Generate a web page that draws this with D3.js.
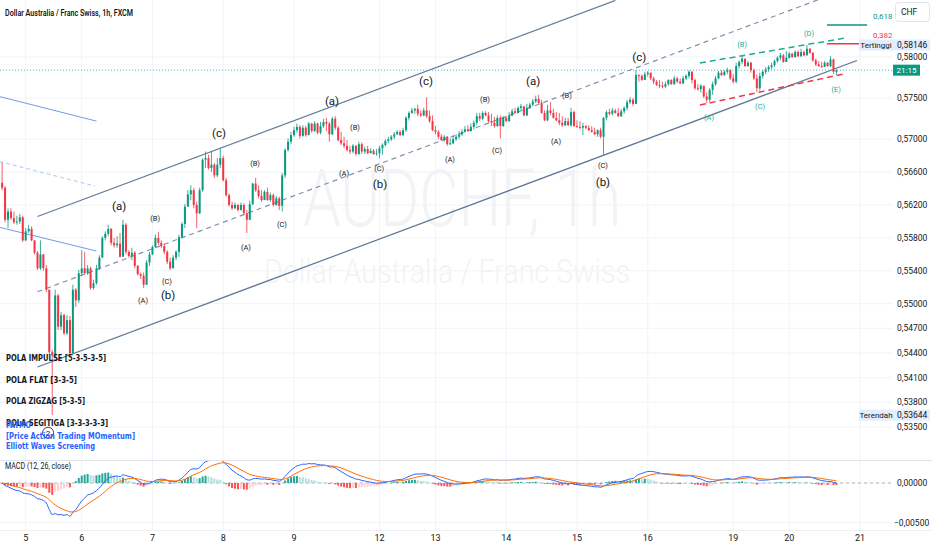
<!DOCTYPE html>
<html>
<head>
<meta charset="utf-8">
<script src="https://cdn.jsdelivr.net/npm/d3@7"></script>
<style>
  body { margin: 0; background: #fff; }
  svg { display: block; }
</style>
</head>
<body>
<script>
// AUDCHF 1h, FXCM - bar index 0 is the first visible candle
var firstOpen = .5647;
var closes = [
  .5641,.5602,.5612,.5604,.5599,.5600,.5605,.5577,.5588,.5591,
  .5577,.5562,.5543,.5560,.5543,.5517,.5441,.5437,.5510,.5472,
  .5486,.5464,.5480,.5440,.5517,.5504,.5537,.5543,.5537,.5543,
  .5519,.5525,.5543,.5556,.5580,.5585,.5591,.5574,.5571,.5573,
  .5557,.5596,.5563,.5558,.5562,.5546,.5536,.5534,.5523,.5550,
  .5560,.5569,.5580,.5574,.5570,.5563,.5551,.5543,.5556,.5563,
  .5581,.5597,.5618,.5633,.5638,.5620,.5610,.5638,.5675,.5677,
  .5665,.5669,.5656,.5669,.5677,.5650,.5632,.5620,.5616,.5620,
  .5614,.5620,.5610,.5602,.5621,.5646,.5638,.5631,.5626,.5636,
  .5626,.5632,.5620,.5628,.5619,.5656,.5687,.5697,.5705,.5711,
  .5715,.5704,.5714,.5705,.5719,.5710,.5719,.5708,.5716,.5721,
  .5719,.5706,.5725,.5714,.5699,.5695,.5692,.5687,.5685,.5692,
  .5682,.5694,.5685,.5688,.5683,.5686,.5682,.5683,.5689,.5693,
  .5698,.5700,.5703,.5706,.5709,.5705,.5711,.5726,.5732,.5735,
  .5737,.5731,.5729,.5735,.5728,.5722,.5711,.5709,.5703,.5699,
  .5703,.5694,.5695,.5700,.5703,.5706,.5709,.5712,.5710,.5715,
  .5720,.5728,.5725,.5732,.5729,.5722,.5720,.5716,.5726,.5716,
  .5726,.5722,.5729,.5734,.5732,.5738,.5740,.5729,.5738,.5742,
  .5746,.5749,.5744,.5732,.5723,.5735,.5732,.5726,.5723,.5720,
  .5717,.5722,.5717,.5733,.5716,.5715,.5714,.5716,.5714,.5711,
  .5709,.5706,.5711,.5703,.5726,.5733,.5731,.5735,.5732,.5728,
  .5734,.5738,.5745,.5748,.5743,.5778,.5777,.5772,.5779,.5781,
  .5774,.5770,.5766,.5765,.5764,.5767,.5772,.5767,.5774,.5770,
  .5768,.5774,.5777,.5782,.5772,.5762,.5761,.5765,.5752,.5748,
  .5760,.5767,.5774,.5781,.5778,.5782,.5784,.5774,.5770,.5789,
  .5794,.5798,.5789,.5793,.5784,.5774,.5762,.5777,.5782,.5785,
  .5788,.5790,.5795,.5799,.5802,.5794,.5799,.5804,.5800,.5806,
  .5801,.5806,.5802,.5810,.5805,.5796,.5791,.5789,.5788,.5793,
  .5789,.5797,.5782,.5784
];
var highs = [
  .5672,.5643,.5616,.5616,.5612,.5607,.5609,.5607,.5592,.5596,
  .5594,.5577,.5564,.5577,.5560,.5547,.5517,.5444,.5517,.5512,
  .5490,.5488,.5486,.5485,.5523,.5519,.5541,.5565,.5563,.5547,
  .5545,.5529,.5547,.5559,.5582,.5588,.5596,.5592,.5580,.5582,
  .5586,.5602,.5598,.5565,.5568,.5564,.5547,.5538,.5538,.5553,
  .5563,.5571,.5584,.5587,.5577,.5573,.5565,.5556,.5559,.5565,
  .5584,.5599,.5621,.5638,.5644,.5641,.5624,.5641,.5677,.5685,
  .5681,.5685,.5671,.5677,.5689,.5680,.5653,.5634,.5624,.5623,
  .5621,.5623,.5622,.5614,.5625,.5647,.5653,.5644,.5638,.5638,
  .5641,.5635,.5634,.5631,.5630,.5659,.5689,.5701,.5709,.5715,
  .5719,.5717,.5717,.5716,.5721,.5720,.5722,.5720,.5721,.5725,
  .5726,.5721,.5727,.5728,.5716,.5709,.5703,.5699,.5692,.5694,
  .5693,.5697,.5696,.5691,.5692,.5689,.5688,.5688,.5692,.5695,
  .5700,.5703,.5705,.5709,.5711,.5711,.5714,.5728,.5734,.5738,
  .5738,.5742,.5735,.5738,.5751,.5735,.5729,.5716,.5711,.5706,
  .5705,.5704,.5701,.5705,.5706,.5710,.5712,.5716,.5717,.5719,
  .5723,.5732,.5732,.5734,.5734,.5733,.5731,.5727,.5729,.5729,
  .5728,.5728,.5733,.5737,.5738,.5740,.5743,.5740,.5743,.5744,
  .5749,.5753,.5754,.5748,.5735,.5742,.5745,.5737,.5733,.5732,
  .5728,.5726,.5726,.5738,.5735,.5723,.5722,.5720,.5717,.5717,
  .5716,.5714,.5712,.5714,.5727,.5735,.5737,.5738,.5737,.5738,
  .5737,.5740,.5748,.5751,.5750,.5784,.5779,.5779,.5782,.5783,
  .5781,.5776,.5772,.5772,.5770,.5770,.5773,.5773,.5777,.5776,
  .5774,.5777,.5779,.5784,.5783,.5774,.5767,.5767,.5765,.5757,
  .5762,.5770,.5777,.5783,.5784,.5784,.5787,.5785,.5779,.5793,
  .5796,.5802,.5796,.5795,.5794,.5786,.5779,.5781,.5784,.5788,
  .5790,.5793,.5797,.5801,.5805,.5804,.5807,.5806,.5805,.5808,
  .5808,.5810,.5808,.58146,.5811,.5806,.5798,.5795,.5794,.5795,
  .5794,.5801,.5798,.5785
];
var lows = [
  .5638,.5599,.5592,.5602,.5597,.5596,.5597,.5575,.5576,.5586,
  .5576,.5560,.5541,.5541,.5540,.5514,.5438,.53644,.5435,.5468,
  .5468,.5462,.5462,.5437,.5437,.5496,.5501,.5534,.5535,.5535,
  .5517,.5517,.5523,.5541,.5556,.5577,.5582,.5571,.5568,.5568,
  .5556,.5557,.5560,.5556,.5553,.5543,.5534,.5530,.5519,.5523,
  .5546,.5559,.5568,.5571,.5568,.5560,.5548,.5541,.5543,.5553,
  .5557,.5580,.5592,.5618,.5626,.5616,.5592,.5609,.5636,.5665,
  .5663,.5660,.5653,.5654,.5665,.5649,.5630,.5618,.5614,.5615,
  .5612,.5613,.5608,.5586,.5602,.5620,.5636,.5628,.5624,.5626,
  .5625,.5624,.5618,.5619,.5614,.5612,.5653,.5685,.5694,.5703,
  .5708,.5701,.5703,.5703,.5705,.5708,.5709,.5706,.5706,.5714,
  .5710,.5697,.5705,.5711,.5697,.5693,.5689,.5685,.5682,.5683,
  .5680,.5681,.5682,.5682,.5682,.5683,.5681,.5680,.5677,.5681,
  .5691,.5695,.5698,.5700,.5705,.5704,.5704,.5709,.5723,.5731,
  .5731,.5728,.5727,.5728,.5726,.5720,.5710,.5706,.5700,.5698,
  .5697,.5692,.5693,.5694,.5698,.5700,.5704,.5708,.5709,.5709,
  .5712,.5717,.5722,.5723,.5728,.5720,.5716,.5714,.5715,.5701,
  .5715,.5721,.5721,.5728,.5731,.5731,.5735,.5728,.5728,.5737,
  .5740,.5744,.5743,.5731,.5722,.5722,.5729,.5725,.5722,.5717,
  .5715,.5716,.5716,.5715,.5715,.5714,.5712,.5705,.5712,.5710,
  .5708,.5705,.5703,.5701,.5681,.5723,.5729,.5729,.5731,.5727,
  .5727,.5731,.5735,.5743,.5740,.5743,.5770,.5771,.5772,.5776,
  .5772,.5767,.5765,.5762,.5762,.5762,.5765,.5766,.5766,.5768,
  .5767,.5767,.5772,.5774,.5768,.5760,.5759,.5757,.5750,.5744,
  .5745,.5754,.5765,.5773,.5777,.5777,.5779,.5772,.5768,.5768,
  .5786,.5791,.5788,.5788,.5781,.5772,.5757,.5759,.5774,.5779,
  .5782,.5785,.5788,.5793,.5796,.5793,.5794,.5798,.5799,.5799,
  .5800,.5800,.5801,.5802,.5804,.5794,.5789,.5788,.5787,.5788,
  .5788,.5788,.5779,.5778
];

// time axis: day label -> bar index
var dayLabels = ["5", "6", "7", "8", "9", "12", "13", "14", "15", "16", "19", "20", "21"];
var dayIndex  = [8, 27, 51, 75, 99, 128, 147, 171, 195, 219, 248, 267, 291];

var priceTicks = [.58, .575, .57, .566, .562, .558, .554, .55, .547, .544, .541, .538, .535];
var macdTicks = [0, -0.005];
var highValue = .58146, lowValue = .53644;

// drawings, anchored as [barIndex, price]
var channelUpper = [[12, .5606], [208, .58688]];
var channelMid   = [[12, .55145], [290, .58873]];
var channelLower = [[12, .5423], [290, .57958]];
var oldLines = [
  { pts: [[-1, .5752], [32, .5722]], dash: null },
  { pts: [[-1, .5673], [31.5, .5643]], dash: "4,3" },
  { pts: [[-1, .5593], [32, .5564]], dash: null }
];
var triUpper = [[236.7, .57927], [286, .58231]];
var triLower = [[236.7, .57416], [285.3, .57793]];
var fibLines = [
  { label: "0,618", p: .58389, from: 279.8, to: 293.4, color: "#089981" },
  { label: "0,382", p: .5816,  from: 279.8, to: 291,   color: "#f23645" }
];

// Elliott wave labels
var bigLabels = [
  ["(a)", 39.7, .5619], ["(b)", 56.3, .5511], ["(c)", 73.6, .5708],
  ["(a)", 111.9, .5747], ["(b)", 128.2, .5646], ["(c)", 143.8, .5771],
  ["(a)", 180.1, .5771], ["(b)", 203.8, .5648], ["(c)", 216.1, .5800]
];
var smallLabels = [
  ["(B)", 51.9, .5604], ["(A)", 47.8, .5504], ["(C)", 55.9, .5527],
  ["(B)", 85.8, .5671], ["(A)", 82.7, .5568], ["(C)", 94.9, .5596],
  ["(B)", 119.7, .5714], ["(A)", 116, .5659], ["(C)", 127.9, .5665],
  ["(B)", 163.8, .5749], ["(A)", 151.9, .5676], ["(C)", 167.9, .5686],
  ["(B)", 191.6, .5753], ["(A)", 187.9, .5697], ["(C)", 203.8, .5668]
];
var tealLabels = [
  ["(A)", 239.8, .5727], ["(B)", 251, .5815], ["(C)", 257.1, .5740],
  ["(D)", 273.7, .5829], ["(E)", 282.9, .5761]
];
var circleLabel = ["2", 15.6, .5343];

var W = 932, H = 550, plotR = 892;
var fmt = function(v) { return d3.format(".5f")(v).replace(".", ","); };

var svg = d3.select("body").append("svg")
  .attr("width", W).attr("height", H)
  .style("font-family", "Roboto, 'Noto Sans', sans-serif");

var x = d3.scaleLinear().domain([8, 291]).range([25.7, 860]);
var y = d3.scaleLinear().domain([0.535, 0.58]).range([427, 57]);
var yM = d3.scaleLinear().domain([-0.005, 0]).range([522.7, 483]);

var defs = svg.append("defs");
defs.append("clipPath").attr("id", "mainClip").append("rect")
  .attr("x", 0).attr("y", 0).attr("width", plotR).attr("height", 460);
defs.append("clipPath").attr("id", "macdClip").append("rect")
  .attr("x", 0).attr("y", 461).attr("width", plotR).attr("height", 69);

// grid
var grid = svg.append("g").attr("stroke", "#f1f3f7");
grid.selectAll(".vg").data(dayIndex).join("line")
  .attr("x1", d => x(d)).attr("x2", d => x(d)).attr("y1", 0).attr("y2", 530);
grid.selectAll(".hg").data(priceTicks).join("line")
  .attr("x1", 0).attr("x2", plotR).attr("y1", d => y(d)).attr("y2", d => y(d));
grid.selectAll(".mg").data(macdTicks).join("line")
  .attr("x1", 0).attr("x2", plotR).attr("y1", d => yM(d)).attr("y2", d => yM(d));

// watermark
svg.append("text").attr("x", 462).attr("y", 226).attr("text-anchor", "middle")
  .attr("font-size", 80).attr("font-weight", 300).attr("fill", "#f1f3f6").attr("textLength", 318)
  .attr("lengthAdjust", "spacingAndGlyphs").text("AUDCHF, 1h");
svg.append("text").attr("x", 447).attr("y", 283).attr("text-anchor", "middle")
  .attr("font-size", 34).attr("font-weight", 300).attr("fill", "#f1f3f6").attr("textLength", 366)
  .attr("lengthAdjust", "spacingAndGlyphs").text("Dollar Australia / Franc Swiss");

var main = svg.append("g").attr("clip-path", "url(#mainClip)");
var line = d3.line().x(d => x(d[0])).y(d => y(d[1]));

// older channel (top left)
main.selectAll(".old").data(oldLines).join("path")
  .attr("d", d => line(d.pts)).attr("fill", "none")
  .attr("stroke", d => d.dash ? "#a9c6f2" : "#6d9ee8").attr("stroke-width", 1)
  .attr("stroke-dasharray", d => d.dash);

// main channel
[channelUpper, channelLower].forEach(function(c) {
  main.append("path").attr("d", line(c)).attr("fill", "none")
    .attr("stroke", "#5d7a99").attr("stroke-width", 1.2);
});
main.append("path").attr("d", line(channelMid)).attr("fill", "none")
  .attr("stroke", "#7d93ab").attr("stroke-width", 1.2).attr("stroke-dasharray", "5,4");

// current price line
var lastClose = closes[closes.length - 1];
main.append("line").attr("x1", 0).attr("x2", plotR)
  .attr("y1", y(lastClose)).attr("y2", y(lastClose))
  .attr("stroke", "#4fb7c2").attr("stroke-dasharray", "1,2");

// candles
var opens = closes.map((c, i) => i ? closes[i - 1] : firstOpen);
var bars = closes.map((c, i) => ({ i: i, o: opens[i], c: c,
  h: Math.max(highs[i], c, opens[i]), l: Math.min(lows[i], c, opens[i]) }));
var upCol = "#089981", dnCol = "#f23645";
main.append("g").selectAll("line").data(bars).join("line")
  .attr("x1", d => x(d.i)).attr("x2", d => x(d.i))
  .attr("y1", d => y(d.h)).attr("y2", d => y(d.l))
  .attr("stroke", d => d.c >= d.o ? upCol : dnCol).attr("stroke-width", 0.8);
main.append("g").selectAll("rect").data(bars).join("rect")
  .attr("x", d => x(d.i) - 1).attr("width", 2)
  .attr("y", d => y(Math.max(d.o, d.c)))
  .attr("height", d => Math.max(1, Math.abs(y(d.o) - y(d.c))))
  .attr("fill", d => d.c >= d.o ? upCol : dnCol);

// triangle
main.append("path").attr("d", line(triUpper)).attr("fill", "none")
  .attr("stroke", "#22ab94").attr("stroke-width", 1.5).attr("stroke-dasharray", "6,4");
main.append("path").attr("d", line(triLower)).attr("fill", "none")
  .attr("stroke", "#f23645").attr("stroke-width", 1.5).attr("stroke-dasharray", "6,4");

// fib levels
fibLines.forEach(function(f) {
  svg.append("line").attr("x1", x(f.from)).attr("x2", x(f.to))
    .attr("y1", y(f.p)).attr("y2", y(f.p)).attr("stroke", f.color).attr("stroke-width", 1.5);
  svg.append("text").attr("x", 873).attr("y", y(f.p) - 9).attr("dy", "0.35em")
    .attr("font-size", 8).attr("fill", f.color).text(f.label);
});

// wave labels
function waveText(list, size, color) {
  main.append("g").selectAll("text").data(list).join("text")
    .attr("x", d => x(d[1])).attr("y", d => y(d[2])).attr("dy", "0.35em")
    .attr("text-anchor", "middle").attr("font-size", size).attr("fill", color)
    .text(d => d[0]);
}
waveText(bigLabels, 11.5, "#131722");
waveText(smallLabels, 7.5, "#131722");
waveText(tealLabels, 7.5, "#22ab94");
main.append("circle").attr("cx", x(circleLabel[1])).attr("cy", y(circleLabel[2]))
  .attr("r", 5.5).attr("fill", "none").attr("stroke", "#131722").attr("stroke-width", 0.8);
main.append("text").attr("x", x(circleLabel[1])).attr("y", y(circleLabel[2])).attr("dy", "0.35em")
  .attr("text-anchor", "middle").attr("font-size", 8).attr("fill", "#131722").text(circleLabel[0]);

// left note block
var notes = [
  ["POLA IMPULSE [5-3-5-3-5]", 358, 100, "#131722"],
  ["POLA FLAT [3-3-5]", 379.5, 71, "#131722"],
  ["POLA ZIGZAG [5-3-5]", 401, 79, "#131722"],
  ["POLA SEGITIGA [3-3-3-3-3]", 422.5, 102, "#131722"],
  ["PATMO", 424.5, 25, "#2962ff"],
  ["[Price Action Trading MOmentum]", 435.5, 129, "#2962ff"],
  ["Elliott Waves Screening", 446, 89, "#2962ff"]
];
svg.append("g").selectAll("text").data(notes).join("text")
  .attr("x", 6).attr("y", d => d[1]).attr("dy", "0.35em")
  .attr("font-family", "'DejaVu Sans Condensed', 'DejaVu Sans', sans-serif")
  .attr("font-weight", "bold").attr("font-size", 9.5)
  .attr("textLength", d => d[2]).attr("lengthAdjust", "spacingAndGlyphs")
  .attr("fill", d => d[3]).text(d => d[0]);

// title
svg.append("text").attr("x", 5).attr("y", 13).attr("dy", "0.35em")
  .attr("font-size", 9).attr("font-weight", 600).attr("fill", "#131722")
  .attr("textLength", 128).attr("lengthAdjust", "spacingAndGlyphs")
  .text("Dollar Australia / Franc Swiss, 1h, FXCM");

// price scale
svg.append("g").selectAll("text").data(priceTicks).join("text")
  .attr("x", 897).attr("y", d => y(d)).attr("dy", "0.35em")
  .attr("font-size", 8.5).attr("fill", "#131722").text(d => fmt(d));

// highest / lowest tags
function tag(label, v) {
  var ty = y(v);
  svg.append("rect").attr("x", 859).attr("y", ty - 5.5).attr("width", 34).attr("height", 11)
    .attr("fill", "#e3edfb");
  svg.append("text").attr("x", 876).attr("y", ty).attr("dy", "0.35em").attr("text-anchor", "middle")
    .attr("font-size", 8).attr("fill", "#131722").text(label);
  svg.append("rect").attr("x", 893).attr("y", ty - 5.5).attr("width", 37).attr("height", 11)
    .attr("fill", "#e3edfb");
  svg.append("text").attr("x", 897).attr("y", ty).attr("dy", "0.35em")
    .attr("font-size", 8.5).attr("fill", "#131722").text(fmt(v));
}
tag("Tertinggi", highValue);
tag("Terendah", lowValue);

// countdown box on current price
svg.append("rect").attr("x", 893).attr("y", y(lastClose) - 5.5).attr("width", 27).attr("height", 11)
  .attr("fill", "#089981");
svg.append("text").attr("x", 906.5).attr("y", y(lastClose)).attr("dy", "0.35em")
  .attr("text-anchor", "middle").attr("font-size", 8).attr("fill", "#fff").text("21:15");

// currency button
svg.append("rect").attr("x", 895.5).attr("y", 2.5).attr("width", 34).attr("height", 19).attr("rx", 3)
  .attr("fill", "#fff").attr("stroke", "#e0e3eb");
svg.append("text").attr("x", 901).attr("y", 12).attr("dy", "0.35em")
  .attr("font-size", 8.5).attr("fill", "#131722").text("CHF");

// pane separators
svg.append("line").attr("x1", 0).attr("x2", W).attr("y1", 460.5).attr("y2", 460.5).attr("stroke", "#e0e3eb");
svg.append("line").attr("x1", 0).attr("x2", W).attr("y1", 530.5).attr("y2", 530.5).attr("stroke", "#eef0f4");

// MACD (12, 26, close), signal 9
function ema(arr, n) {
  var k = 2 / (n + 1), prev, out = [];
  arr.forEach(function(v, i) { prev = i ? v * k + prev * (1 - k) : v; out.push(prev); });
  return out;
}
var e12 = ema(closes, 12), e26 = ema(closes, 26);
var macd = e12.map((v, i) => v - e26[i]);
var signal = ema(macd, 9);
var hist = macd.map((v, i) => v - signal[i]);

var mg = svg.append("g").attr("clip-path", "url(#macdClip)");
mg.append("line").attr("x1", 0).attr("x2", plotR).attr("y1", yM(0)).attr("y2", yM(0))
  .attr("stroke", "#b2b5be").attr("stroke-dasharray", "3,3");
mg.append("g").selectAll("rect").data(hist).join("rect")
  .attr("x", (d, i) => x(i) - 1).attr("width", 2)
  .attr("y", d => Math.min(yM(d), yM(0)))
  .attr("height", d => Math.max(0.5, Math.abs(yM(d) - yM(0))))
  .attr("fill", function(d, i) {
    var prev = i ? hist[i - 1] : d;
    if (d >= 0) return d >= prev ? "#26a69a" : "#b2dfdb";
    return d < prev ? "#ff5252" : "#ffcdd2";
  });
var mLine = d3.line().x((d, i) => x(i)).y(d => yM(d)).curve(d3.curveMonotoneX);
mg.append("path").attr("d", mLine(macd)).attr("fill", "none").attr("stroke", "#2962ff").attr("stroke-width", 1);
mg.append("path").attr("d", mLine(signal)).attr("fill", "none").attr("stroke", "#ff6d00").attr("stroke-width", 1);

svg.append("text").attr("x", 5).attr("y", 466.5).attr("dy", "0.35em")
  .attr("font-size", 8.5).attr("fill", "#131722").attr("textLength", 66)
  .attr("lengthAdjust", "spacingAndGlyphs").text("MACD (12, 26, close)");
svg.append("g").selectAll("text").data(macdTicks).join("text")
  .attr("x", d => d < 0 ? 894 : 897).attr("y", d => yM(d)).attr("dy", "0.35em")
  .attr("font-size", 8.5).attr("fill", "#131722").text(d => fmt(d));

// time axis
svg.append("g").selectAll("text").data(dayLabels).join("text")
  .attr("x", (d, i) => x(dayIndex[i])).attr("y", 538).attr("dy", "0.35em")
  .attr("text-anchor", "middle").attr("font-size", 9).attr("fill", "#131722").text(d => d);
</script>
</body>
</html>
